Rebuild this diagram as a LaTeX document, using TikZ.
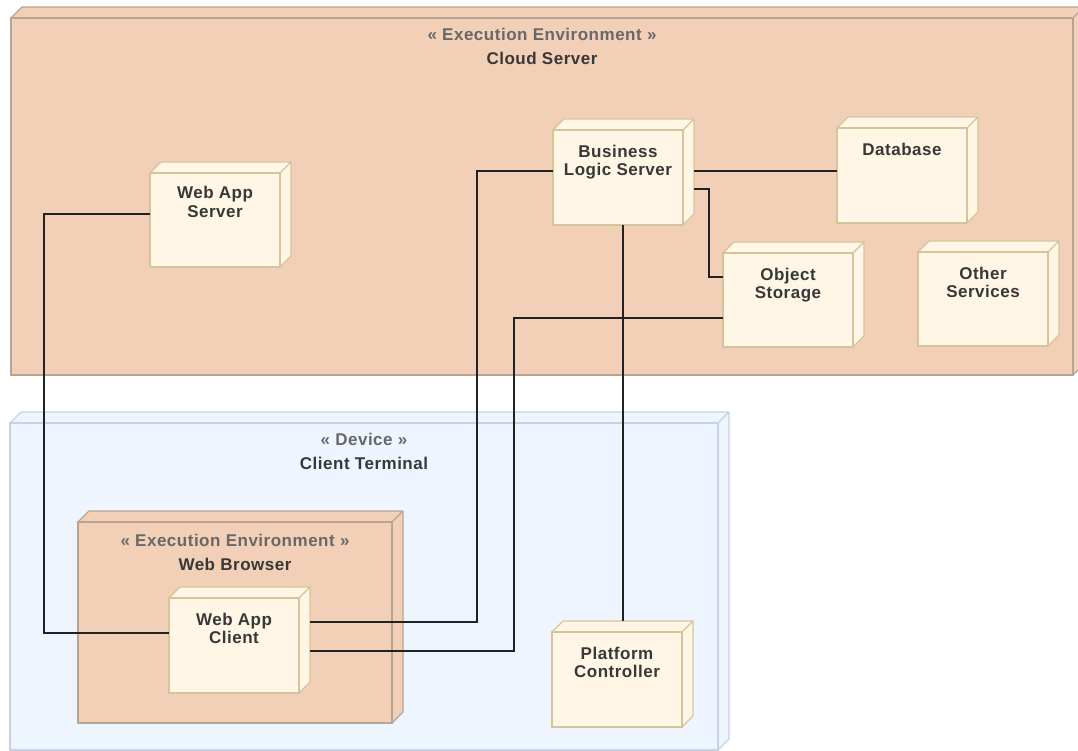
\documentclass[tikz,border=0pt]{standalone}
\usepackage{fontspec}
\newfontfamily\labfont{Liberation Sans}[LetterSpace=3]
\usetikzlibrary{calc}

\definecolor{cloudfill}{HTML}{F2D0B7}
\definecolor{cloudline}{HTML}{B8A493}
\definecolor{devfill}{HTML}{EEF5FE}
\definecolor{devline}{HTML}{C5D2E3}
\definecolor{nodefill}{HTML}{FFF6E5}
\definecolor{nodeline}{HTML}{D4C49C}
\definecolor{txt}{HTML}{383838}
\definecolor{stereo}{HTML}{686868}
\definecolor{wire}{HTML}{222222}

% A UML node drawn as a box with depth:
% #1 name, #2 x, #3 y (top left of front face), #4 width, #5 height, #6 depth, #7 fill, #8 line
\newcommand\solidbox[8]{%
  \filldraw[fill=#7, draw=#8, line width=1.1pt, line join=round]
    (#2,#3) -- ({#2+#6},{#3-#6}) -- ({#2+#4+#6},{#3-#6}) -- ({#2+#4+#6},{#3+#5-#6})
    -- ({#2+#4},{#3+#5}) -- ({#2+#4},#3) -- cycle
    ({#2+#4},#3) -- ({#2+#4+#6},{#3-#6});
  \node[draw=#8, fill=#7, line width=1.1pt, anchor=north west, minimum width=#4,
        minimum height=#5, inner sep=0pt, outer sep=0pt] (#1) at (#2,#3) {};
}

% the base anchor of a multi-line label sits on its last line
\tikzset{
  nodetext/.style={anchor=base, align=center, inner sep=0pt, text=txt,
    font=\labfont\bfseries\fontsize{17}{18.5}\selectfont},
  titletext/.style={anchor=base, align=center, inner sep=0pt, text=txt,
    font=\labfont\bfseries\fontsize{17}{24}\selectfont},
  conn/.style={draw=wire, line width=1.3pt}
}

\begin{document}
\begin{tikzpicture}[x=1pt, y=-1pt]
\useasboundingbox (0,0) rectangle (1078,751);
\fill[white] (0,0) rectangle (1078,751);

% containers
\solidbox{cloud}{11}{18}{1062}{357}{11}{cloudfill}{cloudline}
\solidbox{device}{10}{423}{708}{327}{11}{devfill}{devline}
\solidbox{browser}{78}{522}{314}{201}{11}{cloudfill}{cloudline}

\node[titletext] (cloud-t) at ([yshift=-47]cloud.north)
  {\textcolor{stereo}{« Execution Environment »}\\Cloud Server};
\node[titletext] (device-t) at ([yshift=-46.5]device.north)
  {\textcolor{stereo}{« Device »}\\Client Terminal};
\node[titletext] (browser-t) at ([yshift=-48]browser.north)
  {\textcolor{stereo}{« Execution Environment »}\\Web Browser};

% nodes
\solidbox{was}{150}{173}{130}{94}{11}{nodefill}{nodeline}
\solidbox{bls}{553}{130}{130}{95}{11}{nodefill}{nodeline}
\solidbox{db}{837}{128}{130}{95}{11}{nodefill}{nodeline}
\solidbox{os}{723}{253}{130}{94}{11}{nodefill}{nodeline}
\solidbox{other}{918}{252}{130}{94}{11}{nodefill}{nodeline}
\solidbox{wac}{169}{598}{130}{95}{11}{nodefill}{nodeline}
\solidbox{pc}{552}{632}{130}{95}{11}{nodefill}{nodeline}

\node[nodetext] (was-t) at ([yshift=-44.5]was.north) {Web App\\Server};
\node[nodetext] (bls-t) at ([yshift=-46]bls.north) {Business\\Logic Server};
\node[nodetext] (db-t) at ([yshift=-28]db.north) {Database};
\node[nodetext] (os-t) at ([yshift=-45.5]os.north) {Object\\Storage};
\node[nodetext] (other-t) at ([yshift=-45.5]other.north) {Other\\Services};
\node[nodetext] (wac-t) at ([yshift=-45.5]wac.north) {Web App\\Client};
\node[nodetext] (pc-t) at ([yshift=-45.5]pc.north) {Platform\\Controller};

% connectors
\draw[conn] ([yshift=6]was.west) -- ++(-106,0) |- ([yshift=12.5]wac.west);
\draw[conn] ([yshift=6.5]bls.west) -- ++(-76,0) |- ([xshift=11,yshift=23.5]wac.east);
\draw[conn] ([yshift=-18]os.west) -- ++(-209,0) |- ([xshift=11,yshift=-5.5]wac.east);
\draw[conn] ([xshift=5]bls.south) -- ([xshift=6,yshift=11]pc.north);
\draw[conn] ([xshift=11,yshift=6.5]bls.east) -- ([yshift=4.5]db.west);
\draw[conn] ([xshift=11,yshift=-11.5]bls.east) -- ++(15,0) |- ([yshift=23]os.west);
\end{tikzpicture}
\end{document}
